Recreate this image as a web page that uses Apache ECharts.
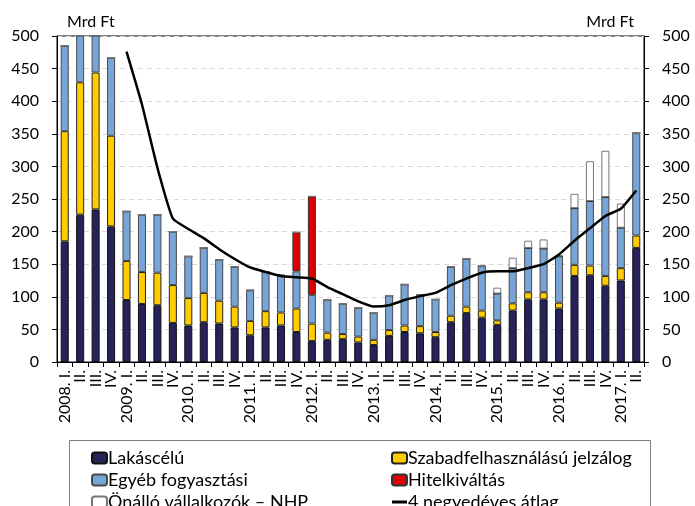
<!DOCTYPE html>
<html>
<head>
<meta charset="utf-8">
<script src="https://cdn.jsdelivr.net/npm/echarts@6/dist/echarts.min.js"></script>
<style>
	html, body { margin: 0; padding: 0; background: #fff; }
	#chart { width: 695px; height: 506px; }
</style>
</head>
<body>
<div id="chart"></div>
<script>
	// negyedévek (x tengely)
	var categories = [
		'2008. I.', 'II.', 'III.', 'IV.',
		'2009. I.', 'II.', 'III.', 'IV.',
		'2010. I.', 'II.', 'III.', 'IV.',
		'2011. I.', 'II.', 'III.', 'IV.',
		'2012. I.', 'II.', 'III.', 'IV.',
		'2013. I.', 'II.', 'III.', 'IV.',
		'2014. I.', 'II.', 'III.', 'IV.',
		'2015. I.', 'II.', 'III.', 'IV.',
		'2016. I.', 'II.', 'III.', 'IV.',
		'2017. I.', 'II.'
	];
	var yTicks = [0, 50, 100, 150, 200, 250, 300, 350, 400, 450, 500];

	// Mrd Ft
	var lakascelu = [185, 226, 234, 208, 95, 89, 87, 60, 56, 61, 59, 53, 41, 53, 56, 46, 32, 34, 35, 30,
		26, 40, 46, 44, 38, 61, 75, 68, 57, 79, 96, 96, 82, 132, 133, 117, 125, 175];
	var szabad = [169, 203, 210, 139, 60, 49, 50, 58, 42, 45, 35, 32, 22, 25, 20, 36, 27, 11, 8, 9,
		8, 9, 10, 11, 8, 10, 10, 11, 7, 11, 11, 11, 9, 17, 15, 15, 19, 19];
	var egyeb = [131, 131, 202, 120, 76, 88, 89, 82, 64, 69, 63, 61, 47, 60, 57, 57, 44, 50, 46, 44,
		41, 53, 63, 48, 50, 75, 73, 68, 41, 54, 68, 67, 71, 87, 99, 121, 62, 157];
	var hitelkivaltas = [0, 0, 0, 0, 0, 0, 0, 0, 0, 0, 0, 0, 0, 0, 0, 60, 151, 0, 0, 0,
		0, 0, 0, 0, 0, 0, 0, 0, 0, 0, 0, 0, 0, 0, 0, 0, 0, 0];
	var nhp = [0, 0, 0, 0, 0, 0, 0, 0, 0, 0, 0, 0, 0, 0, 0, 0, 0, 0, 0, 0,
		0, 0, 0, 0, 0, 0, 0, 0, 9, 16, 11, 14, 2, 22, 61, 71, 37, 0];
	var atlag = [null, null, null, null, 476, 395, 298, 220, 204, 190, 173, 158, 145, 138, 132, 130, 128, 115, 104, 93,
		85, 87, 95, 101, 106, 118, 128, 137, 139, 139, 144, 150, 165, 186, 205, 224, 235, 263];

	var font = 'Lato, "Open Sans", sans-serif';

	function barSeries(name, data, color, border) {
		return {
			name: name,
			type: 'bar',
			stack: 'total',
			data: data,
			barWidth: '52%',
			itemStyle: { color: color, borderColor: border, borderWidth: 1 },
			emphasis: { disabled: true }
		};
	}

	function yAxis(pos) {
		return {
			type: 'value',
			position: pos,
			min: yTicks[0],
			max: yTicks[yTicks.length - 1],
			interval: yTicks[1] - yTicks[0],
			name: 'Mrd Ft',
			nameLocation: 'end',
			nameGap: 6,
			nameTextStyle: {
				fontFamily: font, fontSize: 16, color: '#000',
				align: pos === 'left' ? 'left' : 'right',
				padding: pos === 'left' ? [0, 0, 0, 10] : [0, 10, 0, 0]
			},
			axisLine: { show: true, lineStyle: { color: '#000', width: 1 } },
			axisTick: { show: true, length: 5, lineStyle: { color: '#000' } },
			axisLabel: { fontFamily: font, fontSize: 16, color: '#000', margin: 18 },
			splitLine: { show: pos === 'left', lineStyle: { color: '#d9d9d9', type: [5, 4] } }
		};
	}

	var legendText = { fontFamily: font, fontSize: 18, color: '#000', padding: [0, 0, 0, -4] };

	var myChart = echarts.init(document.getElementById('chart'));
	var option = {
		animation: false,
		grid: {
			left: 57, right: 51, top: 36, bottom: 144,
			show: true, borderColor: '#000', borderWidth: 1, backgroundColor: 'transparent'
		},
		xAxis: {
			type: 'category',
			data: categories,
			axisLine: { lineStyle: { color: '#000' } },
			axisTick: { show: true, length: 5, lineStyle: { color: '#000' } },
			axisLabel: { interval: 0, rotate: 90, fontFamily: font, fontSize: 16, color: '#000', margin: 8 }
		},
		yAxis: [yAxis('left'), yAxis('right')],
		legend: [{
			orient: 'vertical', left: 86, top: 444, height: 120, itemGap: 4, itemWidth: 15, itemHeight: 11,
			textStyle: legendText,
			data: ['Lakáscélú', 'Egyéb fogyasztási', 'Önálló vállalkozók – NHP']
		}, {
			orient: 'vertical', left: 386, top: 444, height: 120, itemGap: 4, itemWidth: 15, itemHeight: 11,
			textStyle: legendText,
			data: ['Szabadfelhasználású jelzálog', 'Hitelkiváltás',
				{ name: '4 negyedéves átlag', icon: 'path://M0,0 L15,0 L15,3 L0,3 Z' }]
		}],
		graphic: [{
			type: 'rect',
			shape: { x: 69.5, y: 440.5, width: 581, height: 80 },
			style: { fill: 'none', stroke: '#7f7f7f', lineWidth: 1 },
			silent: true
		}],
		series: [
			barSeries('Lakáscélú', lakascelu, '#25235a', '#111'),
			barSeries('Szabadfelhasználású jelzálog', szabad, '#ffcc00', '#222'),
			barSeries('Egyéb fogyasztási', egyeb, '#78a5d8', '#4a4a4a'),
			barSeries('Hitelkiváltás', hitelkivaltas, '#dd0000', '#333'),
			barSeries('Önálló vállalkozók – NHP', nhp, '#ffffff', '#777'),
			{
				name: '4 negyedéves átlag',
				type: 'line',
				data: atlag,
				smooth: 0.15,
				symbol: 'none',
				z: 5,
				lineStyle: { color: '#000', width: 2.5 },
				itemStyle: { color: '#000' },
				emphasis: { disabled: true }
			}
		]
	};
	myChart.setOption(option);
</script>
</body>
</html>
